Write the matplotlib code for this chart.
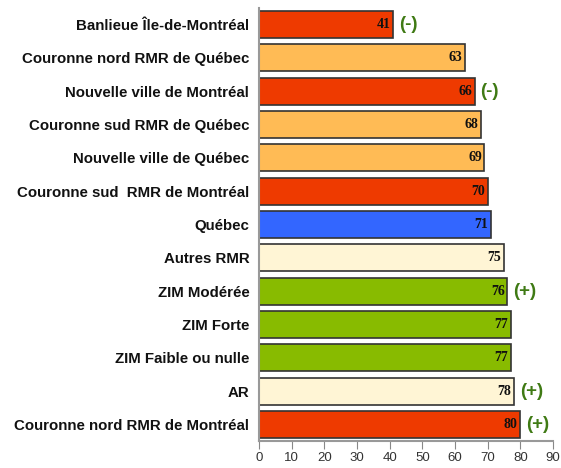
import matplotlib.pyplot as plt

labels = ["Banlieue Île-de-Montréal", "Couronne nord RMR de Québec", "Nouvelle ville de Montréal",
          "Couronne sud RMR de Québec", "Nouvelle ville de Québec", "Couronne sud  RMR de Montréal",
          "Québec", "Autres RMR", "ZIM Modérée", "ZIM Forte", "ZIM Faible ou nulle", "AR",
          "Couronne nord RMR de Montréal"]
values = [41, 63, 66, 68, 69, 70, 71, 75, 76, 77, 77, 78, 80]
colors = ["#EE3A00", "#FFBB55", "#EE3A00", "#FFBB55", "#FFBB55", "#EE3A00", "#3366FF",
          "#FFF5D5", "#88BB00", "#88BB00", "#88BB00", "#FFF5D5", "#EE3A00"]
signs = ["(-)", "", "(-)", "", "", "", "", "", "(+)", "", "", "(+)", "(+)"]

plt.rcParams['font.family'] = ['Liberation Sans', 'DejaVu Sans']

fig = plt.figure(figsize=(5.61, 4.68), dpi=100)
ax = fig.add_axes([259 / 561, 1 - 441 / 468, (553 - 259) / 561, (441 - 8) / 468])

pos = list(range(len(values)))
ax.barh(pos, values, height=0.81, color=colors, edgecolor="#333333", linewidth=1.2, zorder=2)
ax.set_ylim(len(values) - 0.5, -0.5)
ax.set_xlim(0, 90)
ax.set_xticks(range(0, 91, 10))
ax.set_yticks(pos)
ax.set_yticklabels(labels, fontsize=10.8, fontweight="bold", color="#111111")
ax.tick_params(axis="y", length=0, pad=7)
ax.tick_params(axis="x", direction="out", length=6, color="#888888", labelsize=9.5,
               labelcolor="#333333", pad=2)

for s in ["top", "right"]:
    ax.spines[s].set_visible(False)
for s in ["left", "bottom"]:
    ax.spines[s].set_color("#999999")
    ax.spines[s].set_linewidth(1.5)

for i, v in enumerate(values):
    ax.text(v - 0.8, i, str(v), ha="right", va="center", fontsize=10, fontweight="bold",
            family="Liberation Serif", color="#111111", zorder=3)
    if signs[i]:
        ax.text(v + 1.8, i, signs[i], ha="left", va="center", fontsize=13.5, fontweight="bold",
                color="#3F7A14", clip_on=False)

fig.savefig("out.png", dpi=100)
